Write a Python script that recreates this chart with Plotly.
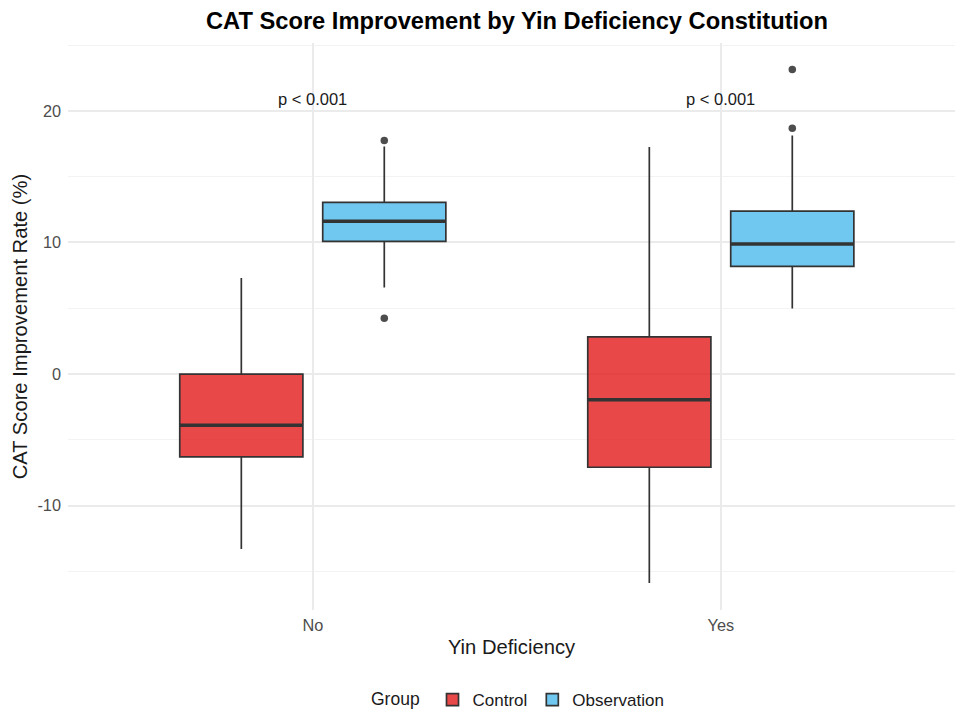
import plotly.graph_objects as go

# Groups on the x axis
categories = ["No", "Yes"]
cat_pos = [0, 1]

# Control group box statistics (CAT score improvement rate, %)
ctrl_lo = [-13.30, -15.88]
ctrl_q1 = [-6.30, -7.08]
ctrl_med = [-3.89, -1.95]
ctrl_q3 = [0.00, 2.83]
ctrl_hi = [7.31, 17.25]

# Observation group box statistics
obs_lo = [6.58, 4.98]
obs_q1 = [10.09, 8.19]
obs_med = [11.61, 9.89]
obs_q3 = [13.05, 12.39]
obs_hi = [17.30, 18.13]

# Observation group outliers
obs_out_cat = ["No", "No", "Yes", "Yes"]
obs_out_val = [17.75, 4.25, 18.69, 23.14]

# Significance labels
p_labels = ["p < 0.001", "p < 0.001"]
p_label_y = [20.9, 20.9]

# y tick labels (plain hyphen for negatives)
y_ticks = [-10, 0, 10, 20]
y_tick_text = ["-10", "0", "10", "20"]

DODGE = 0.1752
BOX_W = 0.3018
LINE = "#333333"
FONT = "Liberation Sans, Arial, sans-serif"

fig = go.Figure()

groups = [
    ("Control", -DODGE, ctrl_lo, ctrl_q1, ctrl_med, ctrl_q3, ctrl_hi, "rgba(228,26,28,0.8)"),
    ("Observation", DODGE, obs_lo, obs_q1, obs_med, obs_q3, obs_hi, "rgba(76,186,236,0.8)"),
]

for name, off, lo, q1, med, q3, hi, fill in groups:
    xs = [p + off for p in cat_pos]
    fig.add_trace(go.Box(
        name=name, x=xs, q1=q1, median=med, q3=q3,
        lowerfence=lo, upperfence=hi,
        width=BOX_W, whiskerwidth=0,
        fillcolor=fill, line=dict(color=LINE, width=1.7),
        boxpoints=False, hoverinfo="skip",
    ))
    # heavier median bar drawn over each box
    mx, my = [], []
    for x, m in zip(xs, med):
        mx += [x - BOX_W / 2, x + BOX_W / 2, None]
        my += [m, m, None]
    fig.add_trace(go.Scatter(
        x=mx, y=my, mode="lines", line=dict(color=LINE, width=3.4),
        showlegend=False, hoverinfo="skip",
    ))

out_x = [cat_pos[categories.index(c)] + DODGE for c in obs_out_cat]
fig.add_trace(go.Scatter(
    x=out_x, y=obs_out_val, mode="markers",
    marker=dict(color="#4D4D4D", size=7.5, line=dict(width=0)),
    showlegend=False, hoverinfo="skip",
))

for p, txt, yv in zip(cat_pos, p_labels, p_label_y):
    fig.add_annotation(x=p, y=yv, text=txt, showarrow=False,
                       xanchor="center", yanchor="middle",
                       font=dict(family=FONT, size=16.5, color="#1A1A1A"))

fig.update_layout(
    width=955, height=713,
    paper_bgcolor="white", plot_bgcolor="white",
    margin=dict(l=68, r=0, t=43, b=103),
    boxmode="overlay",
    font=dict(family=FONT, color="#1A1A1A"),
    title=dict(
        text="<b>CAT Score Improvement by Yin Deficiency Constitution</b>",
        x=517 / 955, xanchor="center", xref="container",
        y=1 - 21 / 713, yanchor="middle", yref="container",
        font=dict(family=FONT, size=23.7, color="#000000"),
    ),
    legend=dict(
        orientation="h", x=519 / 955, xref="container", xanchor="center",
        y=1 - 700 / 713, yref="container", yanchor="middle",
        title=dict(text="Group ", side="left",
                   font=dict(family=FONT, size=17.5, color="#1A1A1A")),
        font=dict(family=FONT, size=17, color="#1A1A1A"),
        itemwidth=30,
    ),
)

fig.update_xaxes(
    range=[-0.6, 1.574], tickmode="array", tickvals=cat_pos, ticktext=categories,
    showgrid=True, gridcolor="#EBEBEB", gridwidth=1.6, zeroline=False,
    showline=False, ticks="", ticklabelstandoff=4,
    tickfont=dict(family=FONT, size=16.3, color="#4D4D4D"),
    title=dict(text="Yin Deficiency", standoff=6,
               font=dict(family=FONT, size=20.2, color="#1A1A1A")),
)

fig.update_yaxes(
    range=[-17.93, 25.16], tickmode="array", tickvals=y_ticks, ticktext=y_tick_text,
    showgrid=True, gridcolor="#EBEBEB", gridwidth=1.6, zeroline=False,
    showline=False, ticks="", ticklabelstandoff=6,
    tickfont=dict(family=FONT, size=16.3, color="#4D4D4D"),
    minor=dict(tickvals=[-15, -5, 5, 15, 25], showgrid=True,
               gridcolor="#F3F3F3", gridwidth=1),
    title=dict(text="CAT Score Improvement Rate (%)", standoff=4,
               font=dict(family=FONT, size=20.2, color="#1A1A1A")),
)

fig.write_html("out.html")
